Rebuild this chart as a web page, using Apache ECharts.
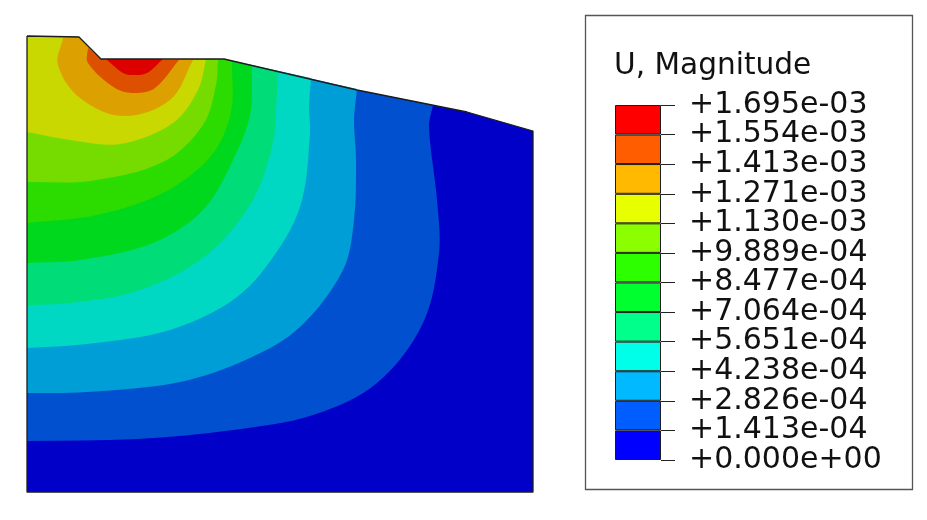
<!DOCTYPE html>
<html>
<head>
<meta charset="utf-8">
<style>
  html, body { margin: 0; padding: 0; background: #fff; }
  #main { width: 927px; height: 520px; }
</style>
<script src="https://cdn.jsdelivr.net/npm/echarts@6/dist/echarts.min.js"></script>
</head>
<body>
<div id="main"></div>
<script>
// legend, bottom to top, levels in units of 1e-4
var levels = [0, 1.413, 2.826, 4.238, 5.651, 7.064, 8.477, 9.889, 11.30, 12.71, 14.13, 15.54, 16.95];
var tickLabels = ['+0.000e+00', '+1.413e-04', '+2.826e-04', '+4.238e-04', '+5.651e-04', '+7.064e-04', '+8.477e-04', '+9.889e-04', '+1.130e-03', '+1.271e-03', '+1.413e-03', '+1.554e-03', '+1.695e-03'];
var legendColors = ['#0000ff', '#005dff', '#00b9ff', '#00ffe8', '#00ff8b', '#00ff2e', '#2eff00', '#8bff00', '#e8ff00', '#ffb900', '#ff5d00', '#ff0000'];
// the shaded part looks duller than the legend
var modelColors = ['#0000c8', '#0050d0', '#009ed6', '#00d8c4', '#00dc78', '#00d81e', '#2cdb00', '#76dc00', '#c8d800', '#dca000', '#dc5000', '#dc0000'];

// part outline, top edge left to right, then down and back
var topEdge = [[27, 36], [79, 37], [101, 59], [224, 59], [357, 90], [467, 112], [533, 131]];
var outline = topEdge.concat([[533, 492], [27, 492], [27, 36]]);

// contour lines, one per level
var contour1 = [[27, 441], [137, 439], [233, 430], [313, 415], [377, 383], [423, 323], [439, 253], [437, 200], [429, 127], [433, 105]];
var contour2 = [[27, 393], [87, 392], [180, 382], [250, 358], [300, 327], [343, 270], [354, 220], [356, 160], [354, 120], [357, 89]];
var contour3 = [[27, 348], [87, 344], [170, 330], [237, 297], [280, 247], [302, 200], [310, 133], [309, 107], [311, 78]];
var contour4 = [[27, 305], [70, 303], [137, 291], [203, 258], [250, 205], [272, 147], [277, 95], [278, 72]];
var contour5 = [[27, 263], [80, 260], [153, 243], [203, 210], [233, 160], [250, 115], [252, 66]];
var contour6 = [[27, 223], [97, 215], [163, 193], [211, 156], [231, 112], [232, 61]];
var contour7 = [[27, 182], [90, 181], [163, 162], [203, 125], [216, 85], [218, 60]];
var contour8 = [[27, 132], [70, 140], [120, 144], [173, 123], [198, 90], [206, 60]];
var contour9 = [[63, 38], [58, 65], [80, 98], [123, 116], [170, 100], [193, 60]];
var contour10 = [[88, 48], [88, 63], [115, 88], [135, 93], [155, 88], [179, 60]];
var contour11 = [[106, 59], [123, 73], [133, 75], [147, 73], [163, 59]];
var contours = [null, contour1, contour2, contour3, contour4, contour5, contour6, contour7, contour8, contour9, contour10, contour11];

// spline through the contour (tangents weighted by chord length so uneven
// spacing doesn't make lumps), then back along the top edge to close it
function contourPath(line, api) {
  var p = line.map(function (pt) { return api.coord(pt); });
  function dist(a, b) { return Math.hypot(a[0] - b[0], a[1] - b[1]); }
  function tangent(i) {
    var a = p[i - 1] || p[i], b = p[i + 1] || p[i];
    var len = dist(a, b) || 1;
    return [(b[0] - a[0]) / len, (b[1] - a[1]) / len];
  }
  var d = 'M' + p[0][0] + ' ' + p[0][1];
  for (var i = 0; i < p.length - 1; i++) {
    var t1 = tangent(i), t2 = tangent(i + 1), h = dist(p[i], p[i + 1]) / 3;
    d += 'C' + (p[i][0] + t1[0] * h) + ' ' + (p[i][1] + t1[1] * h) + ' '
      + (p[i + 1][0] - t2[0] * h) + ' ' + (p[i + 1][1] - t2[1] * h) + ' '
      + p[i + 1][0] + ' ' + p[i + 1][1];
  }
  var startX = line[0][0], endX = line[line.length - 1][0];
  topEdge.slice().reverse().forEach(function (pt) {
    if (pt[0] >= startX && pt[0] < endX) {
      var c = api.coord(pt);
      d += 'L' + c[0] + ' ' + c[1];
    }
  });
  return d + 'Z';
}

function renderBand(params, api) {
  var i = params.dataIndex;
  if (i === 0) {
    return {
      type: 'polygon',
      shape: { points: outline.map(function (pt) { return api.coord(pt); }) },
      style: { fill: modelColors[0] }
    };
  }
  return {
    type: 'path',
    shape: { pathData: contourPath(contours[i], api) },
    style: { fill: modelColors[i] }
  };
}

var legendSeries = legendColors.map(function (c, i) {
  return {
    type: 'bar',
    stack: 'u',
    xAxisIndex: 1,
    yAxisIndex: 1,
    barWidth: '100%',
    silent: true,
    data: [levels[i + 1] - levels[i]],
    itemStyle: { color: c, borderColor: '#1c1c1c', borderWidth: 1 }
  };
});

var chart = echarts.init(document.getElementById('main'));
chart.setOption({
  animation: false,
  backgroundColor: '#fff',
  title: {
    text: 'U, Magnitude',
    left: 609,
    top: 46,
    textStyle: { fontFamily: 'DejaVu Sans', fontSize: 29.6, fontWeight: 'normal', color: '#111' }
  },
  graphic: [{
    type: 'rect',
    shape: { x: 585.5, y: 15.5, width: 327, height: 474 },
    style: { fill: 'none', stroke: '#555', lineWidth: 1.3 }
  }],
  grid: [
    { left: 27, top: 36, width: 506, height: 456 },
    { left: 615, top: 105, width: 46, height: 355 }
  ],
  xAxis: [
    { type: 'value', min: 27, max: 533, show: false, gridIndex: 0 },
    { type: 'category', data: ['U'], show: false, gridIndex: 1 }
  ],
  yAxis: [
    { type: 'value', min: 36, max: 492, inverse: true, show: false, gridIndex: 0 },
    { type: 'value', gridIndex: 1, min: 0, max: 16.95, show: false },
    // labels sit tighter than their boxes, a value axis drops some of them
    {
      type: 'category',
      gridIndex: 1,
      data: tickLabels,
      boundaryGap: false,
      position: 'right',
      splitLine: { show: false },
      axisLine: { show: false },
      axisTick: { show: true, length: 14, interval: 0, lineStyle: { color: '#222', width: 1 } },
      axisLabel: {
        show: true,
        interval: 0,
        margin: 28,
        fontFamily: 'DejaVu Sans',
        fontSize: 30,
        color: '#111'
      }
    }
  ],
  series: [
    {
      type: 'custom',
      coordinateSystem: 'cartesian2d',
      xAxisIndex: 0,
      yAxisIndex: 0,
      clip: false,
      silent: true,
      data: contours.map(function (c, i) { return [i]; }),
      encode: { x: 0, y: 0 },
      renderItem: renderBand
    },
    {
      type: 'line',
      xAxisIndex: 0,
      yAxisIndex: 0,
      clip: false,
      silent: true,
      symbol: 'none',
      z: 5,
      data: outline,
      lineStyle: { color: '#1c1c1c', width: 1.3 }
    }
  ].concat(legendSeries)
});
</script>
</body>
</html>
